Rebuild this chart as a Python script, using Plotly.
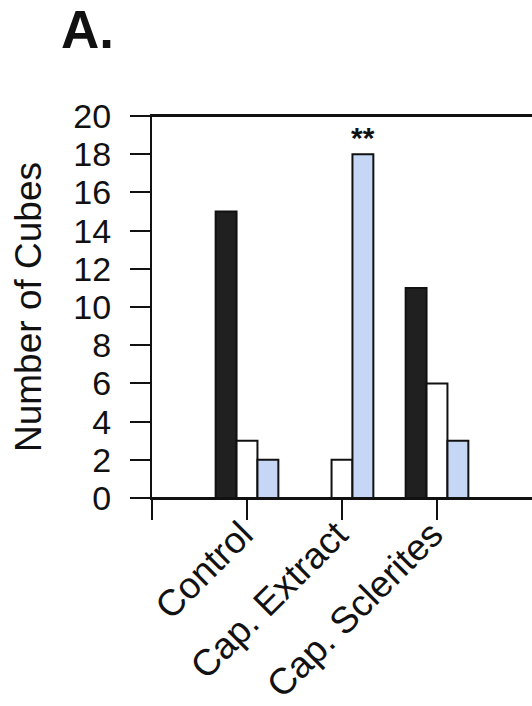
import plotly.graph_objects as go

categories = ["Control", "Cap. Extract", "Cap. Sclerites"]
positions = [0, 1, 2]
black_vals = [15, 0, 11]
white_vals = [3, 2, 6]
blue_vals = [2, 18, 3]
y_ticks = [0, 2, 4, 6, 8, 10, 12, 14, 16, 18, 20]

FONT = "Liberation Sans, Arial, Helvetica, sans-serif"

W, H = 532, 706
L, T, B = 152, 116, 208

fig = go.Figure()
fig.add_bar(x=positions, y=black_vals, marker=dict(color="#202020", line=dict(color="#111", width=2)), showlegend=False)
fig.add_bar(x=positions, y=white_vals, marker=dict(color="#ffffff", line=dict(color="#111", width=2)), showlegend=False)
fig.add_bar(x=positions, y=blue_vals, marker=dict(color="#c6d6f5", line=dict(color="#111", width=2)), showlegend=False)

fig.update_layout(
    width=W, height=H,
    margin=dict(l=L, r=0, t=T, b=B, autoexpand=False),
    paper_bgcolor="white", plot_bgcolor="white",
    barmode="group", bargap=0.34, bargroupgap=0,
    font=dict(family=FONT, color="#111"),
)
fig.update_xaxes(
    range=[-1, 3], tickmode="array", tickvals=[-1] + positions,
    ticktext=[""] + categories, tickangle=-45,
    ticks="outside", ticklen=20, tickwidth=2, tickcolor="#111",
    showline=True, linewidth=2, linecolor="#111", mirror=True,
    showgrid=False, zeroline=False, automargin=False,
    ticklabelstandoff=-22, ticklabelshift=-5,
    tickfont=dict(size=37, family=FONT, color="#111"),
)
fig.update_yaxes(
    range=[0, 20], tickmode="array", tickvals=y_ticks,
    ticks="outside", ticklen=20, tickwidth=2, tickcolor="#111",
    showline=True, linewidth=2, linecolor="#111",
    showgrid=False, zeroline=False, automargin=False,
    ticklabelstandoff=12,
    tickfont=dict(size=34, family=FONT, color="#111"),
)
# frame lines spanning the full plot width (top border and baseline)
for yv in (0, 20):
    fig.add_shape(type="line", xref="paper", yref="y", x0=0, x1=1, y0=yv, y1=yv,
                  line=dict(color="#111", width=2), layer="above")

plot_w = W - L
plot_h = H - T - B
fig.add_annotation(text="<b>A.</b>", xref="paper", yref="paper",
                   x=(59 - L) / plot_w, y=1 + (T + 2) / plot_h, xanchor="left", yanchor="top",
                   showarrow=False, font=dict(size=53, family=FONT, color="#111"))
fig.add_annotation(text="Number of Cubes", textangle=-90, xref="paper", yref="paper",
                   x=(28 - L) / plot_w, y=0.5, xanchor="center", yanchor="middle", showarrow=False,
                   font=dict(size=37, family=FONT, color="#111"))
fig.add_annotation(text="<b>**</b>", xref="x", yref="y", x=1.22, y=18.0,
                   xanchor="center", yanchor="bottom", yshift=-2, showarrow=False,
                   font=dict(size=30, family=FONT, color="#111"))

fig.write_html("out.html", config={"displayModeBar": False},
               post_script="document.body.style.margin='0';document.body.style.overflow='hidden';")
